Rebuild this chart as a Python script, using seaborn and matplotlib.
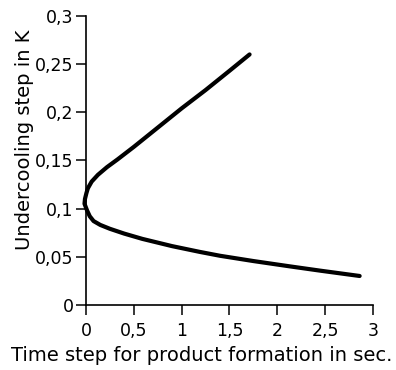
import numpy as np
import pandas as pd
import seaborn as sns
import matplotlib.pyplot as plt

# curve: lower branch (right to left), then upper branch
time_step = [2.86, 2.45, 2.13, 1.75, 1.40, 1.19, 0.90, 0.59, 0.40, 0.25, 0.15, 0.08, 0.04, 0.012,
             -0.015, -0.01, 0.005, 0.02, 0.06, 0.125, 0.22, 0.33, 0.50, 0.75, 1.00, 1.25, 1.50, 1.71]
undercooling = [0.030, 0.0355, 0.040, 0.0455, 0.051, 0.055, 0.061, 0.0685, 0.074, 0.079, 0.083, 0.087, 0.092, 0.098,
                0.105, 0.110, 0.116, 0.121, 0.128, 0.135, 0.143, 0.151, 0.164, 0.184, 0.204, 0.223, 0.243, 0.260]

x_ticks = [0, 0.5, 1, 1.5, 2, 2.5, 3]
x_tick_labels = ['0', '0,5', '1', '1,5', '2', '2,5', '3']
y_ticks = [0, 0.05, 0.1, 0.15, 0.2, 0.25, 0.3]
y_tick_labels = ['0', '0,05', '0,1', '0,15', '0,2', '0,25', '0,3']

df = pd.DataFrame({'t': time_step, 'dT': undercooling})

sns.set_style('ticks')
plt.rcParams['font.family'] = ['DejaVu Sans']
plt.rcParams['text.color'] = 'black'
plt.rcParams['axes.labelcolor'] = 'black'

fig = plt.figure(figsize=(3.96, 3.70), dpi=100)
ax = fig.add_axes([0.217, 0.176, 0.725, 0.781])

sns.lineplot(data=df, x='t', y='dT', sort=False, estimator=None, color='black', linewidth=3, ax=ax)

ax.set_xlim(0, 3)
ax.set_ylim(0, 0.3)
ax.set_xticks(x_ticks)
ax.set_xticklabels(x_tick_labels)
ax.set_yticks(y_ticks)
ax.set_yticklabels(y_tick_labels)
ax.tick_params(direction='out', length=7.5, width=1.1, color='black', labelsize=12.5, labelcolor='black')
ax.tick_params(axis='x', pad=5)
ax.tick_params(axis='y', pad=1.5)
ax.set_xlabel('Time step for product formation in sec.', fontsize=14, labelpad=4)
ax.set_ylabel('Undercooling step in K', fontsize=14, labelpad=1)
# labels sit off-centre in the original, nearer the figure middle
ax.xaxis.label.set_x(0.404)
ax.yaxis.label.set_y(0.571)
sns.despine(ax=ax)
for s in ['left', 'bottom']:
    ax.spines[s].set_linewidth(1.2)
    ax.spines[s].set_color('black')
for line in ax.lines:
    line.set_clip_on(False)

fig.savefig('out.png', dpi=100)
